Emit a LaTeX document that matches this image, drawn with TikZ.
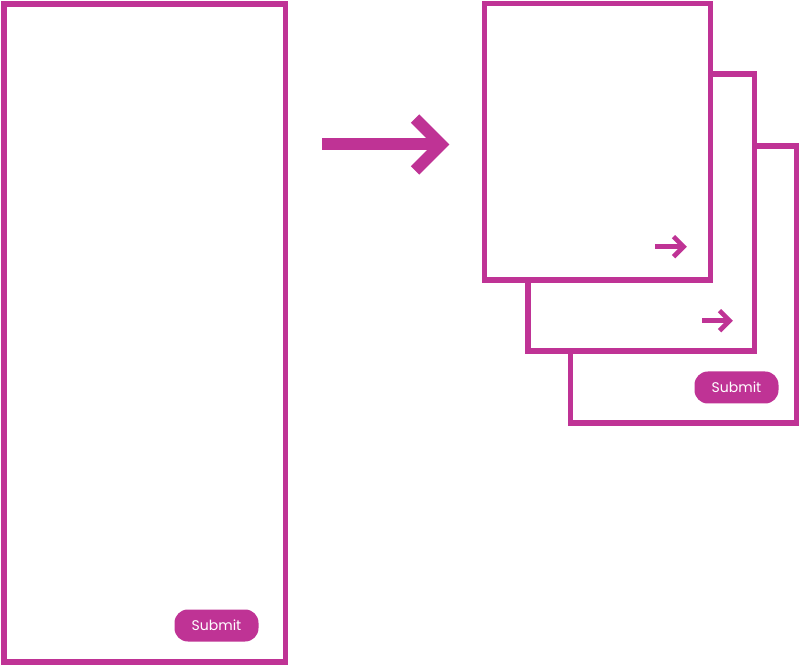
\documentclass[tikz,border=0pt]{standalone}
\usepackage{fontspec}
\setmainfont{Poppins}
\usepackage{xcolor}
\definecolor{formpink}{RGB}{191,51,149}

\tikzset{
  page/.style={draw=formpink, line width=4.1pt, fill=white},
  submitbtn/.style={fill=formpink, text=white, rounded corners=10pt, minimum width=63pt,
    minimum height=24pt, inner sep=0pt, font=\fontsize{10.5}{12}\selectfont},
  bigarrow/.style={draw=formpink, line width=9pt, miter limit=4},
  smallarrow/.style={draw=formpink, line width=3.5pt, miter limit=4}
}

\begin{document}
\begin{tikzpicture}[x=0.75pt,y=0.75pt,yscale=-1,xscale=1]
\useasboundingbox (0,0) rectangle (800,666);

%Shape: Rectangle [long form]
\draw [page] (4,4) rectangle (285.5,662) ;
% Text Node
\node [submitbtn] (submitlong) at (216.5,625.5) {Submit};

%Straight Lines [big arrow]
\coordinate (bigstart) at (322,144.5);
\coordinate (bigend) at (440,144.5);
\draw [bigarrow] (bigstart) -- (bigend) ;
\draw [bigarrow] (415,118.5) -- (441,144.5) -- (415,170.5) ;

%Shape: Rectangle [step 3]
\draw [page] (570.5,146) rectangle (796.5,423) ;
% Text Node
\node [submitbtn] (submitstep) at (736.5,387.5) {Submit};

%Shape: Rectangle [step 2]
\draw [page] (528,74) rectangle (754.5,351) ;
%Straight Lines [next arrow 2]
\coordinate (nexttwoa) at (702,320.7);
\coordinate (nexttwob) at (729,320.7);
\draw [smallarrow] (nexttwoa) -- (nexttwob) ;
\draw [smallarrow] (719.5,310.7) -- (729.5,320.7) -- (719.5,330.7) ;

%Shape: Rectangle [step 1]
\draw [page] (484.5,3.5) rectangle (710.5,280) ;
%Straight Lines [next arrow 1]
\coordinate (nextonea) at (655,246.7);
\coordinate (nextoneb) at (683,246.7);
\draw [smallarrow] (nextonea) -- (nextoneb) ;
\draw [smallarrow] (673.5,236.7) -- (683.5,246.7) -- (673.5,256.7) ;

\end{tikzpicture}
\end{document}
